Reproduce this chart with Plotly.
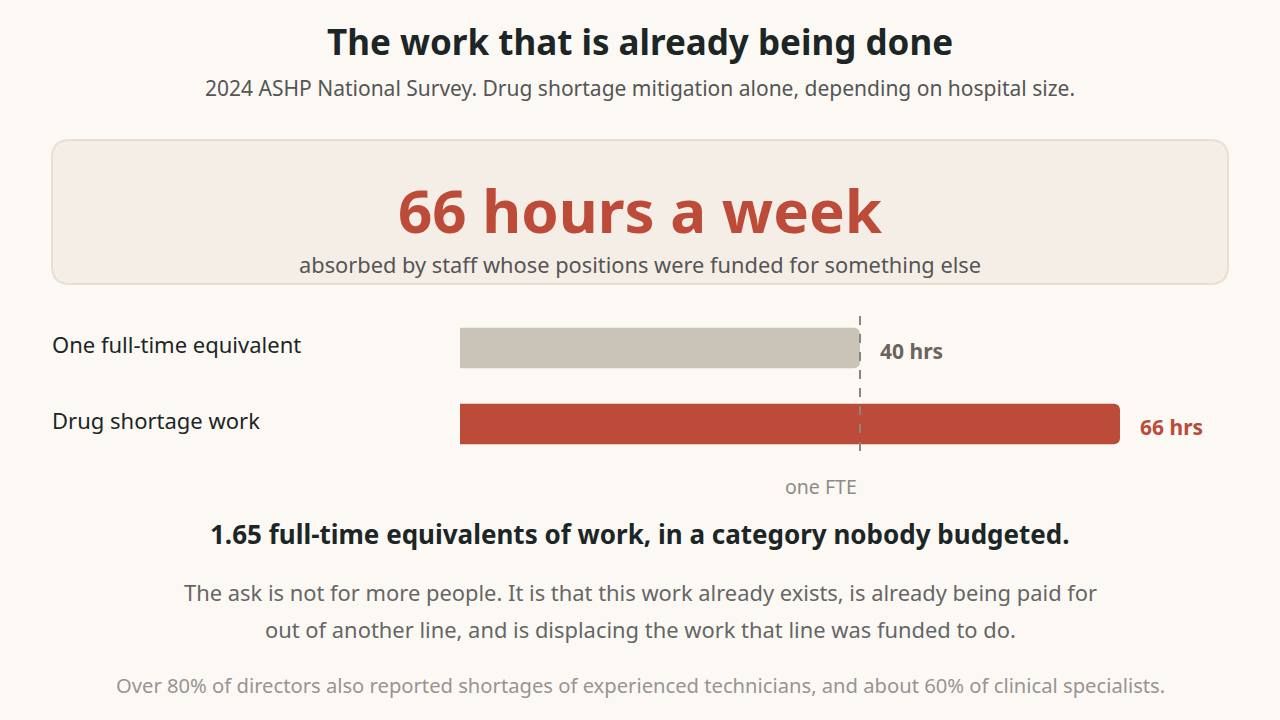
import plotly.graph_objects as go

# Data
categories = ["One full-time equivalent", "Drug shortage work"]
hours = [40, 66]
fte_hours = 40
bar_colors = ["#cac3b8", "#bc4b39"]
value_colors = ["#6b645c", "#bc4b39"]

W, H = 1280, 720
FONT = "'Noto Sans', sans-serif"
BG = "#fcf9f4"
DARK = "#1c2626"


def px(x):
    return x / W


def py(y):
    return 1 - y / H


def rounded_box(x0, y0, x1, y1, r):
    # rounded rectangle path in paper coordinates, built from pixel positions
    pts = [
        f"M {px(x0 + r)} {py(y0)}",
        f"L {px(x1 - r)} {py(y0)}",
        f"Q {px(x1)} {py(y0)} {px(x1)} {py(y0 + r)}",
        f"L {px(x1)} {py(y1 - r)}",
        f"Q {px(x1)} {py(y1)} {px(x1 - r)} {py(y1)}",
        f"L {px(x0 + r)} {py(y1)}",
        f"Q {px(x0)} {py(y1)} {px(x0)} {py(y1 - r)}",
        f"L {px(x0)} {py(y0 + r)}",
        f"Q {px(x0)} {py(y0)} {px(x0 + r)} {py(y0)}",
        "Z",
    ]
    return " ".join(pts)


fig = go.Figure()

fig.add_trace(go.Bar(
    x=hours,
    y=categories,
    orientation="h",
    marker=dict(color=bar_colors, line=dict(width=0)),
    width=0.53,
    hoverinfo="skip",
))

# Value labels beside each bar
for cat, v, c in zip(categories, hours, value_colors):
    fig.add_annotation(
        x=v, y=cat, xref="x", yref="y",
        text=f"<b>{v} hrs</b>", showarrow=False,
        xanchor="left", yanchor="middle", xshift=18, yshift=-3,
        font=dict(size=21, color=c, family=FONT),
    )
    # category labels on the left
    fig.add_annotation(
        x=px(50), y=cat, xref="paper", yref="y",
        text=cat, showarrow=False,
        xanchor="left", yanchor="middle", yshift=4,
        font=dict(size=22, color=DARK, family=FONT),
    )

# One FTE reference line
fig.add_shape(
    type="line", xref="x", yref="y",
    x0=fte_hours, x1=fte_hours, y0=-0.42, y1=1.38,
    line=dict(color="#8a8580", width=2, dash="dash"),
)
fig.add_annotation(
    x=fte_hours, y=py(486), xref="x", yref="paper",
    text="one FTE", showarrow=False,
    xanchor="right", yanchor="middle", xshift=-1,
    font=dict(size=19.5, color="#8f8a85", family=FONT),
)

# Highlight box
fig.add_shape(
    type="path", xref="paper", yref="paper",
    path=rounded_box(52, 140, 1228, 284, 18),
    fillcolor="#f5eee6", line=dict(color="#e8dfd1", width=2),
    layer="below",
)

texts = [
    ("<b>The work that is already being done</b>", 41, 35, DARK),
    ("2024 ASHP National Survey. Drug shortage mitigation alone, depending on hospital size.", 88, 21, "#555555"),
    ("<b>66 hours a week</b>", 210, 60, "#bc4b39"),
    ("absorbed by staff whose positions were funded for something else", 264, 21.8, "#555555"),
    ("<b>1.65 full-time equivalents of work, in a category nobody budgeted.</b>", 534, 26, DARK),
    ("The ask is not for more people. It is that this work already exists, is already being paid for", 592, 21.9, "#666666"),
    ("out of another line, and is displacing the work that line was funded to do.", 629, 21.9, "#666666"),
    ("Over 80% of directors also reported shortages of experienced technicians, and about 60% of clinical specialists.", 685, 20.2, "#999393"),
]
for t, y, s, c in texts:
    fig.add_annotation(
        x=0.5, y=py(y), xref="paper", yref="paper",
        text=t, showarrow=False, xanchor="center", yanchor="middle",
        font=dict(size=s, color=c, family=FONT),
    )

fig.update_layout(
    width=W, height=H,
    margin=dict(l=0, r=0, t=0, b=0),
    paper_bgcolor=BG, plot_bgcolor=BG,
    showlegend=False,
    barcornerradius=6,
    font=dict(family=FONT),
    xaxis=dict(domain=[px(460), px(1220)], range=[0, 76], visible=False, fixedrange=True),
    yaxis=dict(domain=[py(462), py(310)], range=[1.5, -0.5], visible=False, fixedrange=True,
               categoryorder="array", categoryarray=categories),
)

# drop the default page margin so the figure sits at the window's corner
fig.write_html("out.html", config={"displayModeBar": False},
               post_script="document.body.style.margin='0';")
